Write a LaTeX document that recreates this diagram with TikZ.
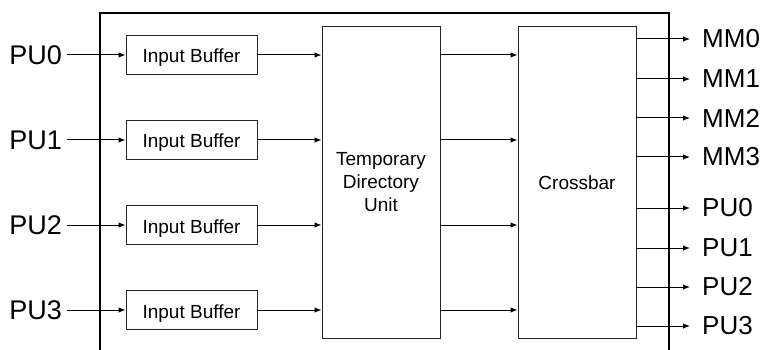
\documentclass[tikz,border=0pt]{standalone}
\usepackage{fontspec}
\setmainfont{Liberation Sans}
\usetikzlibrary{arrows.meta}
\begin{document}
\begin{tikzpicture}[x=1pt,y=-1pt,
  box/.style={draw=black!85, line width=0.9pt, rectangle, inner sep=0pt,
    font=\fontsize{19}{23}\selectfont, align=center},
  ibox/.style={box, minimum width=131pt, minimum height=39pt, text height=16pt, text depth=0pt},
  bigbox/.style={box, minimum width=118pt, minimum height=312pt},
  llabel/.style={anchor=east, inner sep=0pt, font=\fontsize{27}{30}\selectfont},
  rlabel/.style={anchor=west, inner sep=0pt, font=\fontsize{26}{30}\selectfont},
  arr/.style={-{Latex[length=7pt,width=5.5pt]}, line width=1pt},
  frame/.style={line width=1.4pt}
]
\useasboundingbox (0,0) rectangle (763,350);
\draw[frame] (100,352) |- (669,13) -- (669,352);

\node[bigbox] (tdu) at (381,182) {Temporary\\Directory\\Unit};
\node[bigbox] (cb) at (577,182.5) {Crossbar};

\foreach \i/\y in {0/55,1/140,2/225,3/310}{
  \node[ibox] (ib\i) at (191.5,\y) {Input Buffer};
  \node[llabel] (pu\i) at (62,\y) {PU\i};
  \draw[arr] ([xshift=5pt]pu\i.east) -- (ib\i.west);
  \draw[arr] (ib\i.east) -- (tdu.west |- ib\i.east);
  \draw[arr] (tdu.east |- ib\i.east) -- (cb.west |- ib\i.east);
}

\foreach \n/\t/\y in {m0/MM0/39,m1/MM1/79,m2/MM2/118,m3/MM3/157,p0/PU0/208,p1/PU1/248,p2/PU2/287,p3/PU3/326}{
  \node[rlabel] (\n) at (702,\y) {\t};
  \draw[arr] (cb.east |- \n.west) -- ([xshift=-12pt]\n.west);
}
\end{tikzpicture}
\end{document}
